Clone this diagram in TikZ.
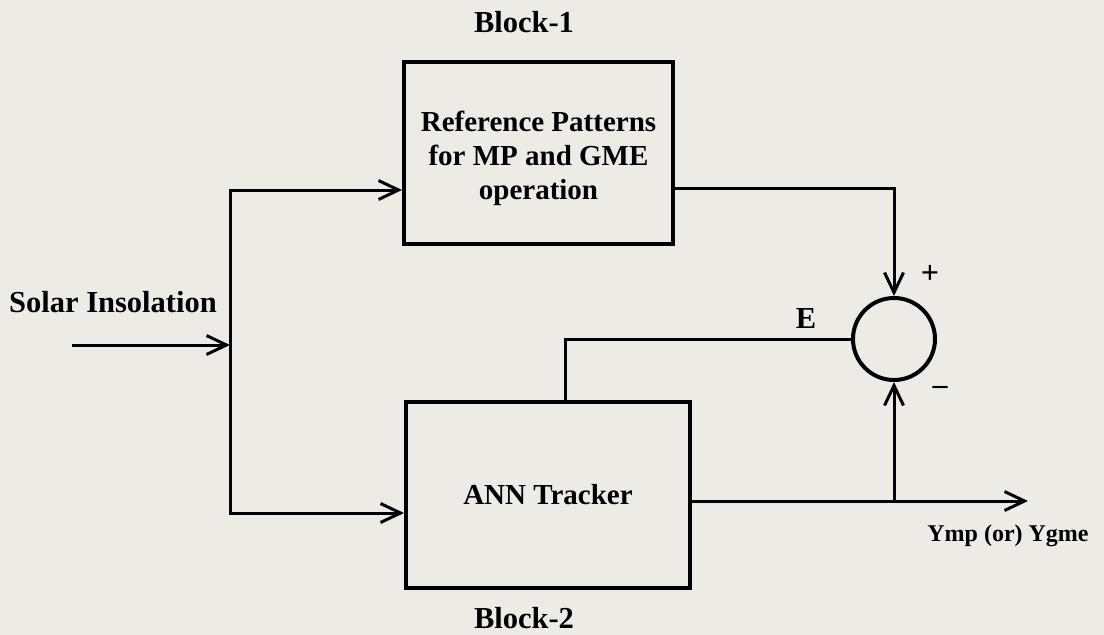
\documentclass[tikz,border=0pt]{standalone}
\usepackage{fontspec}
\setmainfont{Liberation Serif}
\usepackage{xcolor}
\usepackage{tikz}
\usetikzlibrary{arrows.meta, calc}

\definecolor{paper}{HTML}{ECEBE6}

\begin{document}
\begin{tikzpicture}[
    x=1pt, y=-1pt,
    font=\bfseries,
    blk/.style={draw, line width=4pt, align=center, inner sep=0pt},
    wire/.style={line width=3pt},
    arr/.style={wire, -{Straight Barb[length=20pt,width=19pt]}},
    lbl/.style={font=\fontsize{30.5}{34}\selectfont\bfseries, inner sep=0pt}
  ]
  \fill[paper] (0,0) rectangle (1104,635);
  \useasboundingbox (0,0) rectangle (1104,635);

  \node[blk, minimum width=269pt, minimum height=182pt,
        font=\fontsize{29}{34}\selectfont\bfseries] (ref) at (538.5,153)
    {\begin{tabular}{@{}c@{}}\rule{0pt}{36pt}Reference Patterns\\for MP and GME\\operation\end{tabular}};
  \node[blk, minimum width=284pt, minimum height=186pt,
        font=\fontsize{29}{34}\selectfont\bfseries] (ann) at (548,495) {ANN Tracker};
  \node[draw, circle, line width=4pt, minimum size=82pt, inner sep=0pt] (sum) at (894,339) {};

  \node[lbl] (blk1) at (524,22) {Block-1};
  \node[lbl] (blk2) at (524,618) {Block-2};
  \node[lbl] (insol) at (113,302) {Solar Insolation};
  \node[lbl] (elbl) at (806,319) {E};
  \node[lbl, font=\fontsize{24}{28}\selectfont\bfseries] (ylbl) at (1008,536) {Ymp (or) Ygme};
  \node[lbl, font=\fontsize{32}{34}\selectfont\bfseries] (plus) at (930,274) {+};
  \node[lbl, font=\fontsize{30}{32}\selectfont\bfseries] (minus) at (940,390) {--};

  \coordinate (in) at (72,345);
  \coordinate (split) at (230,345);
  \coordinate (bustop) at (230,190);
  \coordinate (busbot) at (230,513);
  \coordinate (yout) at (1028,501);

  % input side
  \draw[arr] (in) -- (split);
  \draw[arr] (split) -- (bustop) -- (bustop -| ref.west);
  \draw[arr] (split) -- (busbot) -- (busbot -| ann.west);

  % summing junction
  \draw[arr] ([yshift=-35pt]ref.east) -| (sum.north);
  \draw[wire] ([xshift=17pt]ann.north) |- (sum.west);
  \draw[arr] ([yshift=-6pt]ann.east) -- (yout);
  \draw[arr] (sum.south |- yout) -- (sum.south);
\end{tikzpicture}
\end{document}
